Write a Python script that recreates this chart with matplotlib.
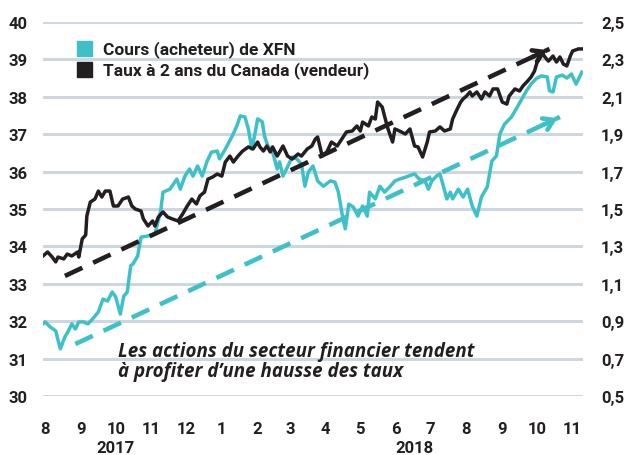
import matplotlib
matplotlib.use("Agg")
import matplotlib.pyplot as plt
import matplotlib.dates as mdates
import matplotlib.ticker as mticker
import pandas as pd

# XFN bid price (left axis)
xfn_dates = [
    "2017-07-30", "2017-08-01", "2017-08-05", "2017-08-10", "2017-08-14", "2017-08-18",
    "2017-08-21", "2017-08-24", "2017-08-27", "2017-08-30", "2017-09-03", "2017-09-07",
    "2017-09-11", "2017-09-16", "2017-09-20", "2017-09-24", "2017-09-28", "2017-10-01",
    "2017-10-05", "2017-10-08", "2017-10-11", "2017-10-14", "2017-10-16", "2017-10-20",
    "2017-10-23", "2017-10-29", "2017-11-04", "2017-11-09", "2017-11-11", "2017-11-17",
    "2017-11-23", "2017-11-26", "2017-11-30", "2017-12-04", "2017-12-07", "2017-12-11",
    "2017-12-15", "2017-12-19", "2017-12-23", "2017-12-28", "2017-12-30", "2018-01-04",
    "2018-01-10", "2018-01-14", "2018-01-17", "2018-01-21", "2018-01-24", "2018-01-27",
    "2018-01-30", "2018-02-01", "2018-02-05", "2018-02-07", "2018-02-10", "2018-02-14",
    "2018-02-18", "2018-02-20", "2018-02-23", "2018-02-26", "2018-03-03", "2018-03-07",
    "2018-03-11", "2018-03-14", "2018-03-17", "2018-03-21", "2018-03-25", "2018-03-30",
    "2018-04-05", "2018-04-09", "2018-04-12", "2018-04-16", "2018-04-18", "2018-04-21",
    "2018-04-25", "2018-04-29", "2018-05-03", "2018-05-07", "2018-05-09", "2018-05-14",
    "2018-05-18", "2018-05-22", "2018-05-27", "2018-05-31", "2018-06-04", "2018-06-10",
    "2018-06-17", "2018-06-21", "2018-06-26", "2018-06-29", "2018-07-02", "2018-07-06",
    "2018-07-09", "2018-07-12", "2018-07-15", "2018-07-18", "2018-07-20", "2018-07-25",
    "2018-07-29", "2018-08-02", "2018-08-06", "2018-08-10", "2018-08-14", "2018-08-19",
    "2018-08-23", "2018-08-27", "2018-08-30", "2018-09-03", "2018-09-09", "2018-09-13",
    "2018-09-18", "2018-09-22", "2018-09-26", "2018-10-01", "2018-10-05", "2018-10-10",
    "2018-10-12", "2018-10-15", "2018-10-18", "2018-10-23", "2018-10-27", "2018-10-31",
    "2018-11-04", "2018-11-09",
]
xfn_values = [
    31.93, 31.98, 31.85, 31.74, 31.26, 31.58,
    31.74, 31.93, 31.79, 31.98, 31.98, 31.93,
    32.06, 32.25, 32.59, 32.54, 32.78, 32.65,
    32.19, 32.67, 32.78, 33.48, 33.53, 33.74,
    34.25, 34.28, 34.33, 34.95, 35.45, 35.53,
    35.80, 35.53, 35.88, 36.07, 35.88, 36.15,
    35.88, 36.26, 36.52, 36.55, 36.34, 36.60,
    36.95, 37.22, 37.49, 37.46, 37.14, 36.60,
    37.06, 37.41, 37.33, 36.95, 36.68, 36.52,
    36.07, 36.26, 35.88, 36.07, 36.39, 36.34,
    36.20, 35.61, 35.99, 36.15, 35.75, 35.61,
    35.75, 35.72, 35.45, 34.73, 34.47, 35.13,
    35.05, 34.81, 35.08, 34.81, 35.45, 35.27,
    35.61, 35.45, 35.61, 35.75, 35.80, 35.86,
    35.94, 35.80, 35.75, 35.53, 35.75, 35.88,
    35.94, 35.61, 35.27, 35.45, 35.27, 35.53,
    35.32, 35.53, 35.08, 34.81, 35.32, 35.59,
    36.28, 36.42, 37.01, 37.27, 37.46, 37.67,
    37.94, 38.16, 38.34, 38.50, 38.56, 38.53,
    38.16, 38.13, 38.53, 38.58, 38.50, 38.61,
    38.34, 38.66,
]

# Canada 2-year yield (right axis)
rate_dates = [
    "2017-07-30", "2017-08-03", "2017-08-07", "2017-08-10", "2017-08-12", "2017-08-17",
    "2017-08-20", "2017-08-24", "2017-08-29", "2017-08-30", "2017-09-02", "2017-09-05",
    "2017-09-06", "2017-09-09", "2017-09-13", "2017-09-16", "2017-09-19", "2017-09-22",
    "2017-09-26", "2017-09-29", "2017-10-03", "2017-10-07", "2017-10-12", "2017-10-15",
    "2017-10-18", "2017-10-23", "2017-10-25", "2017-10-29", "2017-11-02", "2017-11-04",
    "2017-11-07", "2017-11-11", "2017-11-15", "2017-11-19", "2017-11-24", "2017-11-28",
    "2017-12-02", "2017-12-06", "2017-12-10", "2017-12-13", "2017-12-17", "2017-12-20",
    "2017-12-24", "2017-12-28", "2018-01-01", "2018-01-04", "2018-01-08", "2018-01-11",
    "2018-01-15", "2018-01-19", "2018-01-24", "2018-01-28", "2018-02-01", "2018-02-03",
    "2018-02-06", "2018-02-09", "2018-02-12", "2018-02-14", "2018-02-18", "2018-02-23",
    "2018-02-27", "2018-03-03", "2018-03-08", "2018-03-11", "2018-03-16", "2018-03-20",
    "2018-03-23", "2018-03-25", "2018-03-29", "2018-04-02", "2018-04-06", "2018-04-11",
    "2018-04-15", "2018-04-19", "2018-04-24", "2018-04-28", "2018-05-01", "2018-05-03",
    "2018-05-08", "2018-05-11", "2018-05-14", "2018-05-16", "2018-05-20", "2018-05-22",
    "2018-05-25", "2018-05-29", "2018-05-31", "2018-06-04", "2018-06-09", "2018-06-13",
    "2018-06-17", "2018-06-20", "2018-06-24", "2018-06-28", "2018-06-30", "2018-07-05",
    "2018-07-09", "2018-07-13", "2018-07-18", "2018-07-20", "2018-07-24", "2018-07-27",
    "2018-07-29", "2018-08-01", "2018-08-04", "2018-08-06", "2018-08-10", "2018-08-14",
    "2018-08-17", "2018-08-21", "2018-08-24", "2018-08-28", "2018-09-01", "2018-09-05",
    "2018-09-07", "2018-09-12", "2018-09-16", "2018-09-19", "2018-09-23", "2018-09-26",
    "2018-09-29", "2018-10-02", "2018-10-05", "2018-10-08", "2018-10-11", "2018-10-15",
    "2018-10-18", "2018-10-21", "2018-10-24", "2018-10-27", "2018-10-30", "2018-11-01",
    "2018-11-06", "2018-11-09",
]
rate_values = [
    1.249, 1.270, 1.243, 1.217, 1.243, 1.233,
    1.259, 1.249, 1.270, 1.243, 1.340, 1.361,
    1.463, 1.537, 1.553, 1.596, 1.564, 1.596,
    1.596, 1.516, 1.516, 1.553, 1.564, 1.516,
    1.500, 1.489, 1.447, 1.409, 1.436, 1.409,
    1.457, 1.484, 1.457, 1.447, 1.436, 1.473,
    1.516, 1.553, 1.527, 1.570, 1.591, 1.660,
    1.671, 1.687, 1.676, 1.751, 1.783, 1.751,
    1.783, 1.810, 1.832, 1.821, 1.858, 1.832,
    1.810, 1.837, 1.805, 1.832, 1.783, 1.837,
    1.783, 1.767, 1.794, 1.783, 1.821, 1.837,
    1.874, 1.885, 1.783, 1.805, 1.858, 1.837,
    1.874, 1.912, 1.917, 1.944, 1.917, 1.965,
    1.944, 1.992, 1.981, 2.072, 2.045, 1.997,
    1.928, 1.858, 1.928, 1.917, 1.901, 1.928,
    1.837, 1.832, 1.778, 1.858, 1.912, 1.917,
    1.939, 1.917, 1.928, 1.981, 2.035, 2.072,
    2.088, 2.104, 2.126, 2.104, 2.126, 2.088,
    2.126, 2.104, 2.142, 2.142, 2.072, 2.061,
    2.104, 2.142, 2.131, 2.158, 2.184, 2.206,
    2.238, 2.302, 2.340, 2.313, 2.291, 2.318,
    2.286, 2.313, 2.275, 2.265, 2.318, 2.345,
    2.356, 2.356,
]

# trend arrows (start, end)
xfn_trend_dates = ["2017-08-27", "2018-10-21"]
xfn_trend_values = [31.39, 37.46]
rate_trend_dates = ["2017-08-18", "2018-10-12"]
rate_trend_values = [1.142, 2.356]

left_ticks = [30, 31, 32, 33, 34, 35, 36, 37, 38, 39, 40]
right_ticks = [0.5, 0.7, 0.9, 1.1, 1.3, 1.5, 1.7, 1.9, 2.1, 2.3, 2.5]
year_labels = ["2017", "2018"]
year_label_dates = ["2017-10-01", "2018-06-17"]

legend_labels = ["Cours (acheteur) de XFN", "Taux à 2 ans du Canada (vendeur)"]
note_text = "Les actions du secteur financier tendent\nà profiter d’une hausse des taux"

TEAL = "#3ec0c9"
BLACK = "#231f20"
GRID = "#cdd7df"

plt.rcParams["font.family"] = ["Roboto", "DejaVu Sans"]

fig = plt.figure(figsize=(6.24, 4.56), dpi=100)
ax = fig.add_axes([43 / 624, 1 - 397 / 456, 540 / 624, 374 / 456])
ax2 = ax.twinx()

xd = pd.to_datetime(xfn_dates)
rd = pd.to_datetime(rate_dates)

ax.set_xlim(pd.Timestamp("2017-07-30"), pd.Timestamp("2018-11-10"))
ax.set_ylim(30, 40)
ax2.set_ylim(0.5, 2.5)

for v in left_ticks:
    ax.axhline(v, color=GRID, lw=2.2, zorder=0)


def draw_trend(axis, dates, values, color):
    d = pd.to_datetime(dates)
    axis.plot(d, values, color=color, lw=3.3, dashes=(4.2, 2.6), solid_capstyle="butt", zorder=2)
    # short solid stub at the end carries the arrowhead
    frac = 0.04
    x0 = mdates.date2num(d[1]) - frac * (mdates.date2num(d[1]) - mdates.date2num(d[0]))
    y0 = values[1] - frac * (values[1] - values[0])
    axis.annotate("", xy=(mdates.date2num(d[1]), values[1]), xytext=(x0, y0),
                  arrowprops=dict(arrowstyle="->,head_length=0.7,head_width=0.45",
                                  color=color, lw=3.3), zorder=2)


draw_trend(ax, xfn_trend_dates, xfn_trend_values, TEAL)
ax.plot(xd, xfn_values, color=TEAL, lw=2.5, zorder=3, solid_joinstyle="round")

draw_trend(ax2, rate_trend_dates, rate_trend_values, BLACK)
ax2.plot(rd, rate_values, color=BLACK, lw=2.5, zorder=3, solid_joinstyle="round")

for a in (ax, ax2):
    for s in a.spines.values():
        s.set_visible(False)
    a.tick_params(length=0)

ax.set_yticks(left_ticks)
ax.tick_params(axis="y", labelsize=12, labelcolor=BLACK, pad=11)
ax2.set_yticks(right_ticks)
ax2.yaxis.set_major_formatter(mticker.FuncFormatter(lambda v, p: f"{v:.1f}".replace(".", ",")))
ax2.tick_params(axis="y", labelsize=12, labelcolor=BLACK, pad=13)
for lab in ax.get_yticklabels() + ax2.get_yticklabels():
    lab.set_fontweight("bold")

ax.xaxis.set_major_locator(mdates.MonthLocator())
ax.xaxis.set_major_formatter(mticker.FuncFormatter(lambda v, p: str(mdates.num2date(v).month)))
ax.tick_params(axis="x", labelsize=12, labelcolor=BLACK, pad=18)
for lab in ax.get_xticklabels():
    lab.set_fontweight("bold")

for lab, d in zip(year_labels, year_label_dates):
    ax.text(pd.Timestamp(d), -0.137, lab, transform=ax.get_xaxis_transform(),
            ha="center", va="center", fontsize=12, fontweight="bold", color=BLACK)

# legend
for i, (lab, col) in enumerate(zip(legend_labels, [TEAL, BLACK])):
    yy = 1 - (49.5 + i * 21) / 456
    fig.patches.append(plt.Rectangle((77 / 624, yy - 7.5 / 456), 15 / 624, 15 / 456,
                                     transform=fig.transFigure, color=col, zorder=5))
    fig.text(103 / 624, yy, lab, ha="left", va="center", fontsize=12.5,
             fontweight="bold", color=BLACK)

fig.text(118 / 624, 1 - 362 / 456, note_text, ha="left", va="center", fontsize=13.5,
         family=["Open Sans", "DejaVu Sans"], fontweight="bold", fontstyle="italic",
         color=BLACK, linespacing=1.0)

fig.savefig("out.png", dpi=100)
